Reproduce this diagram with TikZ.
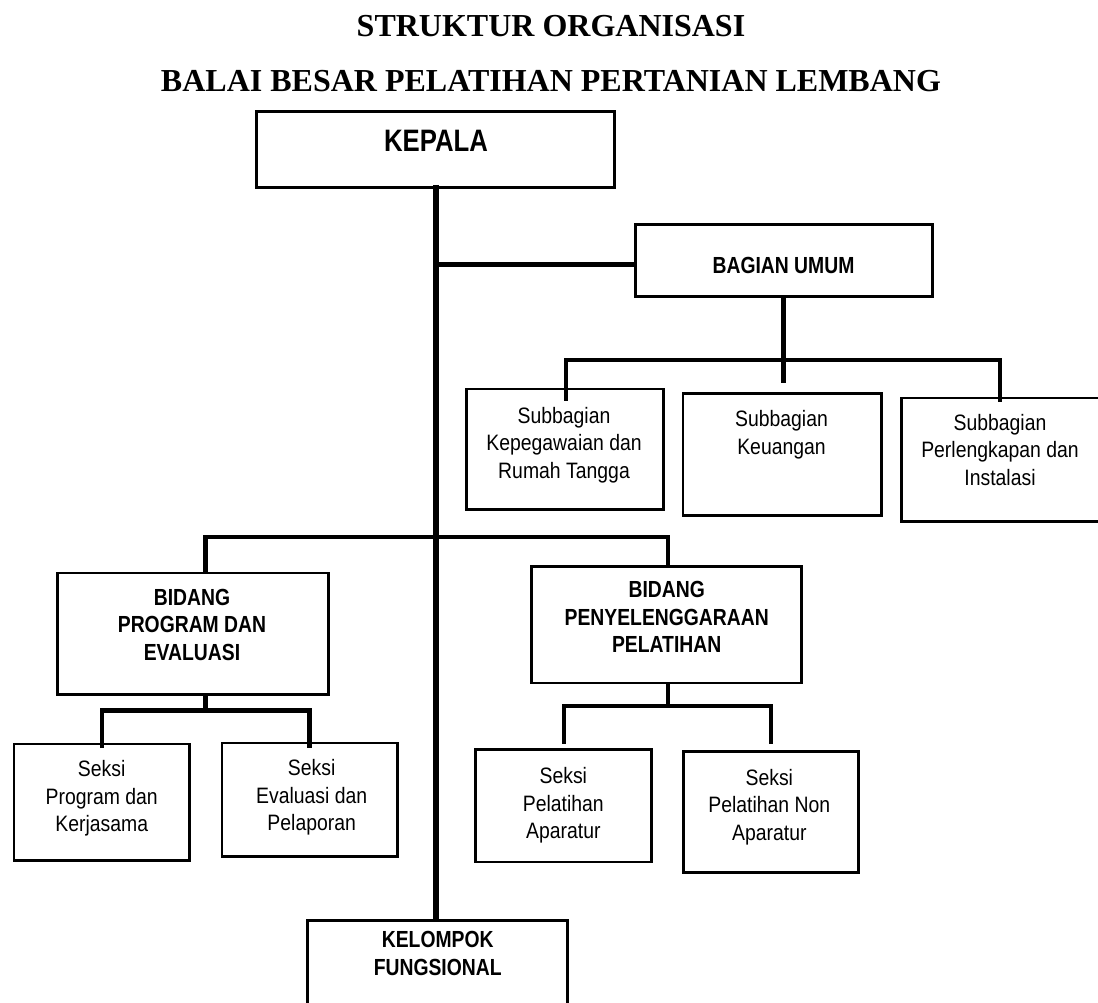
\documentclass[tikz,border=0pt]{standalone}
\usepackage{fontspec}
\usetikzlibrary{calc}
\newfontfamily\titlef[UprightFont=* Bold]{Liberation Serif}
\newfontfamily\bcond[UprightFont=* Bold,FakeStretch=0.83]{Liberation Sans}
\newfontfamily\rcond[FakeStretch=0.87]{Liberation Sans}
\newcommand\fstrut{\rule{0pt}{19pt}}
\begin{document}
\begin{tikzpicture}[x=1pt,y=-1pt,
  box/.style={draw, line width=2.6pt, inner sep=0pt, rectangle},
  conn/.style={draw, line width=4.4pt, line join=miter},
  trunkline/.style={draw, line width=5.4pt},
  lbl/.style={anchor=north, inner sep=0pt, align=center, font=\rcond\fontsize{22.3}{27.5}\selectfont},
  blbl/.style={anchor=north, inner sep=0pt, align=center, font=\bcond\fontsize{23.3}{27.5}\selectfont},
  title/.style={anchor=base, inner sep=0pt, font=\titlef\fontsize{32}{38}\selectfont}]
\useasboundingbox (0,0) rectangle (1098,1003);
\fill[white] (0,0) rectangle (1098,1003);

% titles
\node[title] (t1) at (551,37) {STRUKTUR ORGANISASI};
\node[title] (t2) at (551,92) {BALAI BESAR PELATIHAN PERTANIAN LEMBANG};

% boxes
\node[box, minimum width=358.5pt, minimum height=76.5pt] (kep) at (435.5,149.5) {};
\node[box, minimum width=297.5pt, minimum height=72.5pt] (bag) at (784,260.5) {};
\node[box, minimum width=197.5pt, minimum height=120.8pt] (skep) at (565,449.35) {};
\node[box, minimum width=198.5pt, minimum height=122.2pt] (skeu) at (782.2,454.35) {};
\node[box, minimum width=198.5pt, minimum height=123.5pt] (sper) at (1000.5,459.7) {};
\node[box, minimum width=271.5pt, minimum height=121.5pt] (bpe) at (193,633.7) {};
\node[box, minimum width=270.2pt, minimum height=116.8pt] (bpp) at (666.35,624.65) {};
\node[box, minimum width=175.8pt, minimum height=116.5pt] (sprog) at (101.85,802.2) {};
\node[box, minimum width=175.8pt, minimum height=113.8pt] (seval) at (309.85,799.85) {};
\node[box, minimum width=176pt, minimum height=112.5pt] (sapar) at (563.25,805.8) {};
\node[box, minimum width=175.5pt, minimum height=121.2pt] (snon) at (771,811.85) {};
\node[box, minimum width=260.5pt, minimum height=118pt] (kel) at (437.5,979.5) {};

% texts
\node[anchor=base, inner sep=0pt, font=\bcond\fontsize{31}{37}\selectfont] (kept) at (436,151.7) {KEPALA};
\node[anchor=base, inner sep=0pt, font=\bcond\fontsize{23.3}{27.5}\selectfont] (bagt) at (783.5,273.3) {BAGIAN UMUM};
\node[lbl] (skept) at (564,404) {\fstrut Subbagian\\Kepegawaian dan\\Rumah Tangga};
\node[lbl] (skeut) at (781.5,407.7) {\fstrut Subbagian\\Keuangan};
\node[lbl] (spert) at (1000,411) {\fstrut Subbagian\\Perlengkapan dan\\Instalasi};
\node[blbl] (bpet) at (192,586) {\fstrut BIDANG\\PROGRAM DAN\\EVALUASI};
\node[blbl] (bppt) at (666.7,578.3) {\fstrut BIDANG\\PENYELENGGARAAN\\PELATIHAN};
\node[lbl] (sprogt) at (101.7,757.7) {\fstrut Seksi\\Program dan\\Kerjasama};
\node[lbl] (sevalt) at (311.7,756.7) {\fstrut Seksi\\Evaluasi dan\\Pelaporan};
\node[lbl] (sapart) at (563.3,764.3) {\fstrut Seksi\\Pelatihan\\Aparatur};
\node[lbl] (snont) at (769.3,766) {\fstrut Seksi\\Pelatihan Non\\Aparatur};
\node[blbl] (kelt) at (437.7,928.3) {\fstrut KELOMPOK\\FUNGSIONAL};

% connectors
\coordinate (tk) at (436,185);
\draw[trunkline] (tk) -- (tk |- kel.north);

\coordinate (jb) at (436,264.5);
\draw[conn] (jb) -- (jb -| bag.west);

\coordinate (bstub) at (783.3,382.7);
\draw[conn] (bag.south -| bstub) -- (bstub);
\coordinate (sb1) at (566,360);
\coordinate (sb2) at (1000,360);
\draw[conn] ($(sb1 |- skep.north)+(0,13)$) -- (sb1) -- (sb2) -- ($(sb2 |- sper.north)+(0,5)$);

\coordinate (bb1) at (205.3,537);
\coordinate (bb2) at (668,537);
\draw[conn] (bb1 |- bpe.north) -- (bb1) -- (bb2) -- (bb2 |- bpp.north);

\coordinate (pe1) at (102,710.5);
\coordinate (pe2) at (309.5,710.5);
\draw[conn] (bb1 |- bpe.south) -- (bb1 |- pe1);
\draw[conn] ($(pe1 |- sprog.north)+(0,5.5)$) -- (pe1) -- (pe2) -- ($(pe2 |- seval.north)+(0,6.5)$);

\coordinate (pp1) at (563.7,705.8);
\coordinate (pp2) at (770.7,705.8);
\draw[conn] (bb2 |- bpp.south) -- (bb2 |- pp1);
\draw[conn] ($(pp1 |- sapar.north)+(0,-4.3)$) -- (pp1) -- (pp2) -- ($(pp2 |- snon.north)+(0,-6)$);
\end{tikzpicture}
\end{document}
